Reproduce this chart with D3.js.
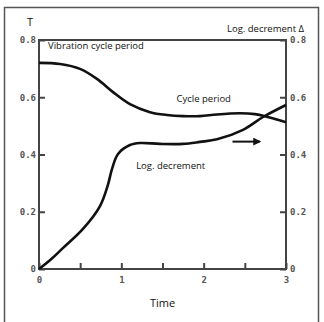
<!DOCTYPE html>
<html>
<head>
<meta charset="utf-8">
<script src="https://cdn.jsdelivr.net/npm/d3@7"></script>
<style>
  body { margin: 0; background: #fff; }
  text { font-family: "Open Sans", sans-serif; fill: #111; }
  .tick-lab { font-family: "DejaVu Sans Mono", monospace; font-weight: bold; font-size: 9px; fill: #555; }
</style>
</head>
<body>
<script>
// time axis (left/right share the same 0..0.8 range)
const timeTicks = [0, 0.5, 1, 1.5, 2, 2.5, 3];
const timeLabels = ["0", "", "1", "", "2", "", "3"];
const valueTicks = [0, 0.2, 0.4, 0.6, 0.8];
const valueLabels = ["0", "0.2", "0.4", "0.6", "0.8"];

// cycle period T (left axis)
const cycleT = [0, 0.255, 0.498, 0.704, 0.899, 1.105, 1.348, 1.555, 1.749, 1.955, 2.162, 2.441, 2.623, 2.745, 2.866, 3.0];
const cycleV = [0.720, 0.716, 0.699, 0.664, 0.618, 0.576, 0.548, 0.538, 0.534, 0.534, 0.540, 0.544, 0.541, 0.534, 0.524, 0.513];

// log. decrement (right axis)
const decT = [0, 0.15, 0.29, 0.534, 0.741, 0.838, 0.887, 0.96, 1.105, 1.227, 1.47, 1.749, 1.955, 2.162, 2.478, 2.721, 3.0];
const decV = [0, 0.035, 0.073, 0.140, 0.220, 0.295, 0.350, 0.402, 0.433, 0.440, 0.437, 0.437, 0.444, 0.453, 0.486, 0.531, 0.573];

const W = 324, H = 322;
const margin = { top: 40, right: 38, bottom: 53, left: 39 };
const width = W - margin.left - margin.right;
const height = H - margin.top - margin.bottom;

const svg = d3.select("body").append("svg")
  .attr("width", W)
  .attr("height", H);

// outer frame (open at the bottom)
svg.append("path")
  .attr("d", `M4.5,${H} V7.5 H318.5 V${H}`)
  .attr("fill", "none")
  .attr("stroke", "#555")
  .attr("stroke-width", 1.5);

const g = svg.append("g").attr("transform", `translate(${margin.left},${margin.top})`);

const x = d3.scaleLinear().domain([0, 3]).range([0, width]);
const y = d3.scaleLinear().domain([0, 0.8]).range([height, 0]);

const axisColor = "#444";

// plot box
g.append("rect")
  .attr("width", width).attr("height", height)
  .attr("fill", "none").attr("stroke", axisColor).attr("stroke-width", 2);

const left = g.append("g")
  .call(d3.axisLeft(y).tickValues(valueTicks).tickFormat((d, i) => valueLabels[i]).tickSizeInner(-6).tickSizeOuter(0).tickPadding(3));
const right = g.append("g").attr("transform", `translate(${width},0)`)
  .call(d3.axisRight(y).tickValues(valueTicks).tickFormat((d, i) => valueLabels[i]).tickSizeInner(-6).tickSizeOuter(0).tickPadding(4));
const bottom = g.append("g").attr("transform", `translate(0,${height})`)
  .call(d3.axisBottom(x).tickValues(timeTicks).tickFormat((d, i) => timeLabels[i]).tickSizeInner(-6).tickSizeOuter(0).tickPadding(4));

[left, right, bottom].forEach(a => {
  a.select(".domain").remove();
  a.selectAll("line").attr("stroke", axisColor).attr("stroke-width", 2);
  a.selectAll("text").attr("class", "tick-lab").attr("font-family", null).attr("font-size", null);
});
bottom.selectAll("text").attr("dy", "1.1em");

const line = d3.line()
  .x(d => x(d[0]))
  .y(d => y(d[1]))
  .curve(d3.curveCatmullRom.alpha(0.5));

g.append("path")
  .datum(cycleT.map((t, i) => [t, cycleV[i]]))
  .attr("d", line)
  .attr("fill", "none").attr("stroke", "#111").attr("stroke-width", 2.6);

g.append("path")
  .datum(decT.map((t, i) => [t, decV[i]]))
  .attr("d", line)
  .attr("fill", "none").attr("stroke", "#111").attr("stroke-width", 2.6);

// arrow pointing to the right axis
svg.append("defs").append("marker")
  .attr("id", "head").attr("viewBox", "0 0 10 10")
  .attr("refX", 8).attr("refY", 5)
  .attr("markerWidth", 4).attr("markerHeight", 4)
  .attr("orient", "auto")
  .append("path").attr("d", "M0,0 L10,5 L0,10 Z").attr("fill", "#111");

g.append("line")
  .attr("x1", x(2.35)).attr("x2", x(2.68))
  .attr("y1", y(0.445)).attr("y2", y(0.445))
  .attr("stroke", "#111").attr("stroke-width", 2)
  .attr("marker-end", "url(#head)");

// labels
g.append("text").attr("x", x(0.11)).attr("y", y(0.77))
  .attr("font-size", 9.5).text("Vibration cycle period");
g.append("text").attr("x", x(1.67)).attr("y", y(0.585))
  .attr("font-size", 9.5).text("Cycle period");
g.append("text").attr("x", x(1.18)).attr("y", y(0.35))
  .attr("font-size", 9.5).text("Log. decrement");

svg.append("text").attr("x", 30).attr("y", 26)
  .attr("text-anchor", "middle").attr("font-size", 11).text("T");
svg.append("text").attr("x", 304).attr("y", 32)
  .attr("text-anchor", "end").attr("font-size", 9.5).text("Log. decrement Δ");

svg.append("text").attr("x", margin.left + x(1.5)).attr("y", 307)
  .attr("text-anchor", "middle").attr("font-size", 11).text("Time");
</script>
</body>
</html>
